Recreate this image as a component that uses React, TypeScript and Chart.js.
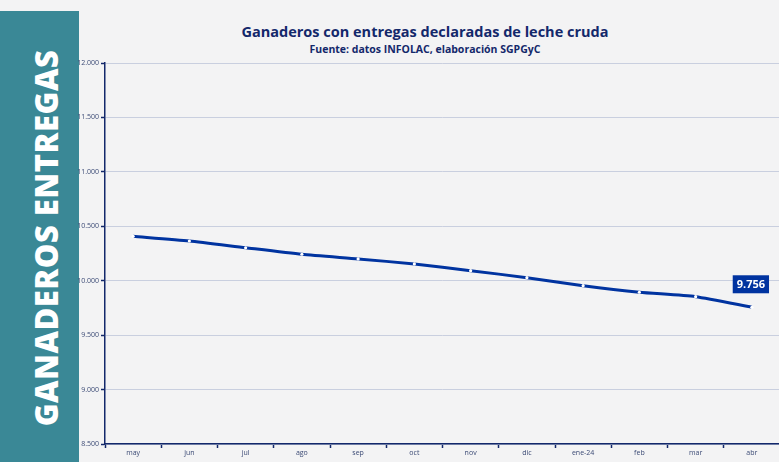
import React, { useEffect, useRef } from "react";
import { Chart, registerables } from "chart.js";

Chart.register(...registerables);

const categories = ["may", "jun", "jul", "ago", "sep", "oct", "nov", "dic", "ene-24", "feb", "mar", "abr"];
const ganaderos = [10408, 10365, 10303, 10243, 10200, 10154, 10092, 10028, 9954, 9894, 9853, 9756];
const yTicks = [8500, 9000, 9500, 10000, 10500, 11000, 11500, 12000];

const titleText = "Ganaderos con entregas declaradas de leche cruda";
const subtitleText = "Fuente: datos INFOLAC, elaboración SGPGyC";
const panelText = "GANADEROS ENTREGAS";

const NAVY = "#13286b";
const LINE = "#0033a0";

const fmt = (v: number) => {
  const s = Math.round(v).toString();
  return s.replace(/\B(?=(\d{3})+(?!\d))/g, ".");
};

const lastLabelPlugin = {
  id: "lastLabel",
  afterDatasetsDraw(chart: any) {
    const meta = chart.getDatasetMeta(0);
    const n = meta.data.length;
    const pt = meta.data[n - 1];
    const val = chart.data.datasets[0].data[n - 1];
    const ctx = chart.ctx;
    const text = fmt(val);
    ctx.save();
    ctx.font = "bold 11px 'Open Sans', sans-serif";
    const w = ctx.measureText(text).width + 8;
    const h = 18;
    const cx = pt.x - 1;
    const cy = pt.y - 23;
    ctx.fillStyle = LINE;
    ctx.fillRect(cx - w / 2, cy - h / 2, w, h);
    ctx.fillStyle = "#ffffff";
    ctx.textAlign = "center";
    ctx.textBaseline = "middle";
    ctx.fillText(text, cx, cy + 0.5);
    ctx.restore();
  },
};

export default function App() {
  const ref = useRef<HTMLCanvasElement | null>(null);

  useEffect(() => {
    document.body.style.margin = "0";
    const canvas = ref.current!;
    const chart = new Chart(canvas, {
      type: "line",
      data: {
        labels: categories,
        datasets: [
          {
            data: ganaderos,
            borderColor: LINE,
            borderWidth: 3,
            pointRadius: 1.6,
            pointBackgroundColor: "#ffffff",
            pointBorderWidth: 0,
            tension: 0.2,
          },
        ],
      },
      options: {
        animation: false,
        responsive: false,
        maintainAspectRatio: false,
        layout: { padding: { top: 63, right: 0, bottom: 0, left: 0 } },
        plugins: {
          legend: { display: false },
          tooltip: { enabled: false },
        },
        scales: {
          x: {
            offset: true,
            grid: {
              display: true,
              drawOnChartArea: false,
              offset: true,
              tickLength: 4,
              tickColor: NAVY,
              tickWidth: 1.5,
            },
            border: { color: NAVY, width: 1.5 },
            ticks: {
              color: "#3b4a75",
              font: { family: "'Open Sans', sans-serif", size: 7 },
              padding: 1,
              maxRotation: 0,
              autoSkip: false,
            },
            afterFit(scale: any) {
              scale.height = 18;
            },
          },
          y: {
            min: 8500,
            max: 12000,
            afterBuildTicks(scale: any) {
              scale.ticks = yTicks.map((v) => ({ value: v }));
            },
            grid: {
              color: "#c9cfdf",
              lineWidth: 1,
              tickLength: 4,
              tickColor: NAVY,
              tickWidth: 1.5,
            },
            border: { color: NAVY, width: 1.5 },
            ticks: {
              color: "#3b4a75",
              font: { family: "'Open Sans', sans-serif", size: 7 },
              padding: 2,
              callback: (v: any) => fmt(Number(v)),
            },
            afterFit(scale: any) {
              scale.width = 43;
            },
          },
        },
      },
      plugins: [lastLabelPlugin],
    });
    return () => chart.destroy();
  }, []);

  return (
    <div
      style={{
        position: "relative",
        width: 779,
        height: 462,
        background: "#f3f3f4",
        overflow: "hidden",
        fontFamily: "'Open Sans', sans-serif",
      }}
    >
      <div
        style={{
          position: "absolute",
          left: 0,
          top: 11,
          width: 79,
          height: 451,
          background: "#3a8896",
        }}
      >
        <div
          style={{
            position: "absolute",
            left: 46,
            top: 227,
            transform: "translate(-50%, -50%) rotate(-90deg)",
            whiteSpace: "nowrap",
            color: "#ffffff",
            fontWeight: 800,
            fontSize: 31,
            letterSpacing: 0.5,
            lineHeight: 1,
          }}
        >
          {panelText}
        </div>
      </div>
      <div
        style={{
          position: "absolute",
          left: 79,
          width: 692,
          top: 22,
          textAlign: "center",
          color: NAVY,
          fontWeight: 700,
          fontSize: 14.5,
          lineHeight: "20px",
        }}
      >
        {titleText}
      </div>
      <div
        style={{
          position: "absolute",
          left: 79,
          width: 692,
          top: 42,
          textAlign: "center",
          color: NAVY,
          fontWeight: 700,
          fontSize: 10.5,
          lineHeight: "14px",
        }}
      >
        {subtitleText}
      </div>
      <canvas
        ref={ref}
        width={722}
        height={462}
        style={{ position: "absolute", left: 62, top: 0, width: 722, height: 462 }}
      />
    </div>
  );
}
